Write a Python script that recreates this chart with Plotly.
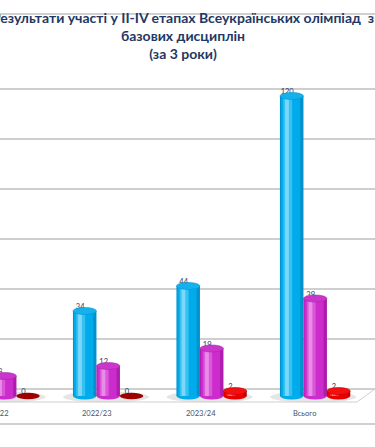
import plotly.graph_objects as go

# ---------------- data ----------------
categories = ["2021/22", "2022/23", "2023/24", "Всього"]
series_names = ["II етап", "III етап", "IV етап"]
blue_vals = [42, 34, 44, 120]
magenta_vals = [8, 12, 19, 39]
red_vals = [0, 0, 2, 2]
grid_vals = [0, 20, 40, 60, 80, 100, 120]
title_text = ("Результати участі у II-IV етапах Всеукраїнських олімпіад&nbsp;&nbsp;з"
              "<br>базових дисциплін<br>(за 3 роки)")

# ---------------- geometry / style ----------------
PX_PER_CAT = 103.5
FIRST_PX = -6.3
PX_PER_UNIT = 2.5
X_RANGE = [-FIRST_PX / PX_PER_CAT, (375 - FIRST_PX) / PX_PER_CAT]
Y_RANGE = [-(423 - 396) / PX_PER_UNIT, -(423 - 396) / PX_PER_UNIT + 408 / PX_PER_UNIT]
BACK_OFFSET = 7 / PX_PER_UNIT          # back wall is 7px higher than the bar base
W = 23.5 / PX_PER_CAT
CENTERS = [-12.5 / PX_PER_CAT, 11 / PX_PER_CAT, 34.3 / PX_PER_CAT]
CAP = 1.4
LABEL_SHIFT = -4.5 / PX_PER_CAT

series = [
    dict(vals=blue_vals, bands=[(0.0, 1.0, "#0090CC"), (0.04, 0.86, "#00ABEB"),
                                (0.14, 0.52, "#35C1F2"), (0.22, 0.38, "#7DD7F7")],
         cap="#14B1EC", cap_line="#0098D4"),
    dict(vals=magenta_vals, bands=[(0.0, 1.0, "#AE1CAE"), (0.04, 0.86, "#CB2CCB"),
                                   (0.14, 0.52, "#DA57DA"), (0.22, 0.38, "#E78DE7")],
         cap="#C936C9", cap_line="#B020B0"),
    dict(vals=red_vals, bands=[(0.0, 1.0, "#C00000"), (0.04, 0.86, "#E80000"),
                               (0.14, 0.52, "#FF2B2B"), (0.22, 0.38, "#FF6A6A")],
         cap="#F21010", cap_line="#C80000"),
]

fig = go.Figure()
shapes = []
xs = list(range(len(categories)))

# shadows under groups
for i in xs:
    left = i + CENTERS[0] - W / 2 - 10 / PX_PER_CAT
    right = i + CENTERS[2] + W / 2 + 6 / PX_PER_CAT
    shapes.append(dict(type="circle", xref="x", yref="y", layer="between",
                       x0=left, x1=right, y0=-2.6, y1=1.8,
                       fillcolor="rgba(110,110,110,0.18)", line=dict(width=0)))

for s, sd in enumerate(series):
    c = CENTERS[s]
    vals = sd["vals"]
    for (a, b, col) in sd["bands"]:
        fig.add_trace(go.Bar(
            x=xs, y=vals, base=0, width=(b - a) * W, offset=c - W / 2 + a * W,
            marker=dict(color=col, line=dict(width=0)),
            name=series_names[s], showlegend=False, hoverinfo="skip"))
    for i, v in enumerate(vals):
        x0 = i + c - W / 2
        x1 = i + c + W / 2
        if v > 0:
            # rounded bottom
            shapes.append(dict(type="circle", xref="x", yref="y", layer="between",
                               x0=x0, x1=x1, y0=-CAP, y1=CAP,
                               fillcolor=sd["bands"][1][2], line=dict(width=0)))
            shapes.append(dict(type="circle", xref="x", yref="y", layer="above",
                               x0=x0, x1=x1, y0=v - CAP, y1=v + CAP,
                               fillcolor=sd["cap"], line=dict(width=0.6, color=sd["cap_line"])))
        else:
            shapes.append(dict(type="circle", xref="x", yref="y", layer="above",
                               x0=x0, x1=x1, y0=-CAP * 0.9, y1=CAP * 0.9,
                               fillcolor="#9E0000", line=dict(width=0)))
    fig.add_trace(go.Scatter(
        x=[i + c + LABEL_SHIFT for i in xs], y=vals, mode="text",
        text=[str(v) for v in vals], textposition="top center",
        textfont=dict(family="Lato", size=7.5, color="#2A3558"),
        showlegend=False, hoverinfo="skip", cliponaxis=True))

# floor outline
front_y = -(402 - 396) / PX_PER_UNIT
corner_x = (357 - FIRST_PX) / PX_PER_CAT
shapes.append(dict(type="path", xref="x", yref="y", layer="between",
                   path=f"M {X_RANGE[0] - 0.2},{front_y} L {corner_x},{front_y} "
                        f"L {X_RANGE[1]},{BACK_OFFSET}",
                   line=dict(color="#CFCFCF", width=1)))

# category labels, positioned in x-domain units derived from the category index
annotations = []
span = X_RANGE[1] - X_RANGE[0]
for i, cat in enumerate(categories):
    annotations.append(dict(
        x=(i - X_RANGE[0]) / span, y=-(413 - 396) / PX_PER_UNIT,
        xref="x domain", yref="y",
        text=cat, showarrow=False, xanchor="center", yanchor="middle",
        font=dict(family="Lato", size=7.5, color="#44546A")))

fig.update_layout(
    width=375, height=447,
    margin=dict(l=0, r=0, t=15, b=24),
    paper_bgcolor="white", plot_bgcolor="white",
    barmode="overlay",
    showlegend=False,
    title=dict(text=title_text, x=183 / 375, xanchor="center", xref="container",
               y=1 - 23 / 447, yanchor="top", yref="container",
               font=dict(family="Lato", size=14, color="#1F3864", weight="bold")),
    xaxis=dict(range=X_RANGE, showgrid=False, zeroline=False, showticklabels=False,
               ticks="", showline=True, mirror=True, linecolor="#D0D0D0", linewidth=1.5),
    yaxis=dict(range=Y_RANGE, tickvals=[g + BACK_OFFSET for g in grid_vals],
               showticklabels=False, ticks="", showgrid=True, gridcolor="#CFCFCF",
               gridwidth=1.5, zeroline=False, showline=False),
    shapes=shapes,
    annotations=annotations,
)

fig.write_html("out.html")
